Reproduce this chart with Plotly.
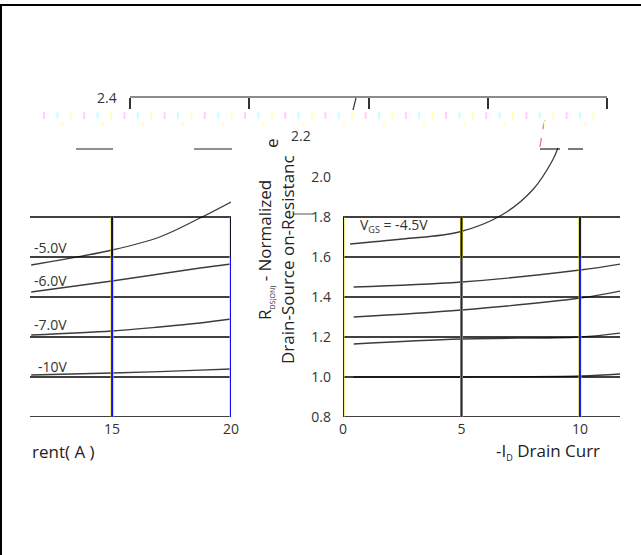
import plotly.graph_objects as go

W, H = 641, 555

# ---------------- data ----------------
right_x_ticks = [0, 5, 10]
left_x_ticks = [15, 20]
top_axis_ticks = [0, 5, 10, 15, 20]
y_ticks = [0.8, 1.0, 1.2, 1.4, 1.6, 1.8, 2.0]
grid_y = [0.8, 1.0, 1.2, 1.4, 1.6, 1.8]

# right panel curves (-I_D in A, normalized R_DS(on))
r_vgs45_x = [0.3, 2.5, 4.9, 6.7, 8.0, 8.85, 9.07]
r_vgs45_y = [1.665, 1.69, 1.725, 1.81, 1.935, 2.085, 2.145]
r_c2_x = [0.45, 5.0, 10.0, 11.7]
r_c2_y = [1.45, 1.475, 1.535, 1.565]
r_c3_x = [0.45, 5.0, 10.0, 11.7]
r_c3_y = [1.30, 1.335, 1.395, 1.43]
r_c4_x = [0.45, 5.0, 10.0, 11.7]
r_c4_y = [1.165, 1.19, 1.20, 1.22]
r_c5_x = [0.45, 5.0, 10.0, 11.7]
r_c5_y = [1.0, 1.0, 1.005, 1.015]
glitch_x = [8.31, 8.45, 8.61]
glitch_y = [2.15, 2.25, 2.325]

# left panel curves
l_x = [11.6, 15.0, 17.0, 18.7, 20.0]
l_vgs50_y = [1.56, 1.635, 1.70, 1.795, 1.875]
l_vgs60_y = [1.425, 1.48, 1.515, 1.545, 1.565]
l_vgs70_y = [1.21, 1.23, 1.25, 1.27, 1.29]
l_vgs10_y = [1.01, 1.02, 1.027, 1.034, 1.04]

left_labels = ["-5.0V", "-6.0V", "-7.0V", "-10V"]
left_label_x = [11.65, 11.65, 11.65, 11.8]
left_label_y = [1.65, 1.485, 1.265, 1.055]


def px(x):
    return x / W


def py(y):
    return 1 - y / H


FONT = "Open Sans"
TXT = "#333333"
CURVE = "#3c3c3c"

fig = go.Figure()

right_curves = [(r_vgs45_x, r_vgs45_y), (r_c2_x, r_c2_y), (r_c3_x, r_c3_y),
                (r_c4_x, r_c4_y), (r_c5_x, r_c5_y)]
for cx, cy in right_curves:
    fig.add_trace(go.Scatter(x=cx, y=cy, mode="lines", xaxis="x", yaxis="y",
                             line=dict(color=CURVE, width=1.3, shape="spline"),
                             hoverinfo="skip", showlegend=False))
fig.add_trace(go.Scatter(x=glitch_x, y=glitch_y, mode="lines", xaxis="x", yaxis="y",
                         line=dict(color="#e07a86", width=1.3, dash="dash"),
                         hoverinfo="skip", showlegend=False))

for cy in [l_vgs50_y, l_vgs60_y, l_vgs70_y, l_vgs10_y]:
    fig.add_trace(go.Scatter(x=l_x, y=cy, mode="lines", xaxis="x2", yaxis="y2",
                             line=dict(color=CURVE, width=1.3, shape="spline"),
                             hoverinfo="skip", showlegend=False, cliponaxis=False))

# invisible trace so the top axis is drawn
fig.add_trace(go.Scatter(x=[None], y=[None], xaxis="x3", yaxis="y",
                         showlegend=False, hoverinfo="skip"))

shapes = []
# horizontal grid lines
for g in grid_y:
    for xr, yr in (("x domain", "y"), ("x2 domain", "y2")):
        shapes.append(dict(type="line", xref=xr, yref=yr, x0=0, x1=1, y0=g, y1=g,
                           line=dict(color="#000000", width=1.6), layer="above"))
# vertical grid lines (blue with a thin yellow fringe)
for xr, yr, vals in (("x", "y", right_x_ticks), ("x2", "y2", left_x_ticks)):
    for v in vals:
        shapes.append(dict(type="line", xref=xr, yref=yr, x0=v, x1=v, y0=0.8, y1=1.8,
                           line=dict(color="#e8e000", width=3), layer="above"))
        shapes.append(dict(type="line", xref=xr, yref=yr, x0=v, x1=v, y0=0.8, y1=1.6,
                           line=dict(color="#1010ff", width=2), layer="above"))
        shapes.append(dict(type="line", xref=xr, yref=yr, x0=v, x1=v, y0=1.6, y1=1.8,
                           line=dict(color="#101030", width=2), layer="above"))

# page frame
shapes.append(dict(type="line", xref="paper", yref="paper", x0=0, x1=1,
                   y0=py(5), y1=py(5), line=dict(color="#000", width=2)))
shapes.append(dict(type="line", xref="paper", yref="paper", x0=px(1), x1=px(1),
                   y0=py(5), y1=0, line=dict(color="#000", width=2)))

# stray fragments
for x0, x1 in ((76, 113), (194, 232), (540, 560), (568, 583)):
    shapes.append(dict(type="line", xref="paper", yref="paper", x0=px(x0), x1=px(x1),
                       y0=py(149), y1=py(149), line=dict(color="#222", width=1.2)))
shapes.append(dict(type="line", xref="paper", yref="paper", x0=px(356), x1=px(353),
                   y0=py(98), y1=py(110), line=dict(color="#333", width=1.2)))
shapes.append(dict(type="line", xref="paper", yref="paper", x0=px(293), x1=px(313),
                   y0=py(214), y1=py(214), line=dict(color="#555", width=1)))

# faint coloured tick noise under the top axis
pastel = ["#ffd0ff", "#c8ffff", "#ffffc0"]
k = 0
xx = 44
while xx < 602:
    shapes.append(dict(type="line", xref="paper", yref="paper", x0=px(xx), x1=px(xx),
                       y0=py(112), y1=py(119), line=dict(color=pastel[k % 3], width=2)))
    if k % 3 == 1:
        shapes.append(dict(type="line", xref="paper", yref="paper", x0=px(xx + 5), x1=px(xx + 5),
                           y0=py(121), y1=py(126), line=dict(color=pastel[(k + 1) % 3], width=2)))
    xx += 13.4
    k += 1

annotations = []
for t, ax, ay in zip(left_labels, left_label_x, left_label_y):
    annotations.append(dict(text=t, xref="x2", yref="y2", x=ax, y=ay, xanchor="left",
                            yanchor="middle", showarrow=False,
                            font=dict(family=FONT, size=14, color=TXT)))
annotations.append(dict(text="V<sub><span style='font-size:9px'>GS</span></sub> = -4.5V",
                        xref="x", yref="y", x=0.65, y=1.76,
                        xanchor="left", yanchor="middle", showarrow=False,
                        font=dict(family=FONT, size=14, color=TXT)))
annotations.append(dict(text="2.2", xref="paper", yref="paper", x=px(301), y=py(136),
                        xanchor="center", yanchor="middle", showarrow=False,
                        font=dict(family=FONT, size=14, color=TXT)))
annotations.append(dict(text="2.4", xref="paper", yref="paper", x=px(107), y=py(97),
                        xanchor="center", yanchor="middle", showarrow=False,
                        font=dict(family=FONT, size=14, color=TXT)))
annotations.append(dict(text="R<sub><span style='font-size:7px'>DS(ON)</span></sub> - Normalized",
                        xref="paper", yref="paper",
                        x=px(265), y=py(250), xanchor="center", yanchor="middle",
                        textangle=-90, showarrow=False,
                        font=dict(family=FONT, size=17, color="#222")))
annotations.append(dict(text="Drain-Source on-Resistanc", xref="paper", yref="paper",
                        x=px(287), y=py(260), xanchor="center", yanchor="middle",
                        textangle=-90, showarrow=False,
                        font=dict(family=FONT, size=17, color="#222")))
annotations.append(dict(text="e", xref="paper", yref="paper",
                        x=px(271), y=py(143), xanchor="center", yanchor="middle",
                        textangle=-90, showarrow=False,
                        font=dict(family=FONT, size=17, color="#222")))
annotations.append(dict(text="-I<sub><span style='font-size:9px'>D</span></sub> Drain Curr",
                        xref="paper", yref="paper",
                        x=px(494), y=py(451), xanchor="left", yanchor="middle",
                        showarrow=False, font=dict(family=FONT, size=17, color="#222")))
annotations.append(dict(text="rent( A )", xref="paper", yref="paper",
                        x=px(30), y=py(451), xanchor="left", yanchor="middle",
                        showarrow=False, font=dict(family=FONT, size=17, color="#222")))

axis_common = dict(showgrid=False, zeroline=False, showline=False, ticks="",
                   automargin=False,
                   tickfont=dict(family=FONT, size=14, color=TXT))

fig.update_layout(
    width=W, height=H,
    margin=dict(l=0, r=0, t=0, b=0, pad=0),
    paper_bgcolor="white", plot_bgcolor="rgba(0,0,0,0)",
    showlegend=False,
    xaxis=dict(domain=[px(343), px(620)], range=[0, 11.69], anchor="y",
               tickvals=right_x_ticks, ticklabelstandoff=2, **axis_common),
    yaxis=dict(domain=[py(417), py(97)], range=[0.8, 2.4], anchor="x",
               tickvals=y_ticks, ticktext=[f"{v:.1f}" for v in y_ticks],
               ticklabelstandoff=11, **axis_common),
    xaxis2=dict(domain=[px(30), px(231)], range=[11.55, 20], anchor="y2",
                tickvals=left_x_ticks, ticklabelstandoff=2, **axis_common),
    yaxis2=dict(domain=[py(417), py(97)], range=[0.8, 2.4], anchor="x2",
                showticklabels=False, **{k2: v2 for k2, v2 in axis_common.items() if k2 != "tickfont"}),
    xaxis3=dict(domain=[px(130), px(607)], range=[0, 20], anchor="free", position=py(97),
                tickvals=top_axis_ticks, ticks="outside", ticklen=11, tickwidth=1.5,
                tickcolor="#333", showline=True, linecolor="#8c8c8c", linewidth=2,
                showticklabels=False, showgrid=False, zeroline=False, automargin=False),
    shapes=shapes,
    annotations=annotations,
)

fig.write_html(
    "out.html",
    config={"displayModeBar": False},
    post_script=(
        "var s=document.documentElement.style;s.margin='0';s.padding='0';s.overflow='hidden';"
        "var b=document.body.style;b.margin='0';b.padding='0';b.overflow='hidden';"
    ),
)
